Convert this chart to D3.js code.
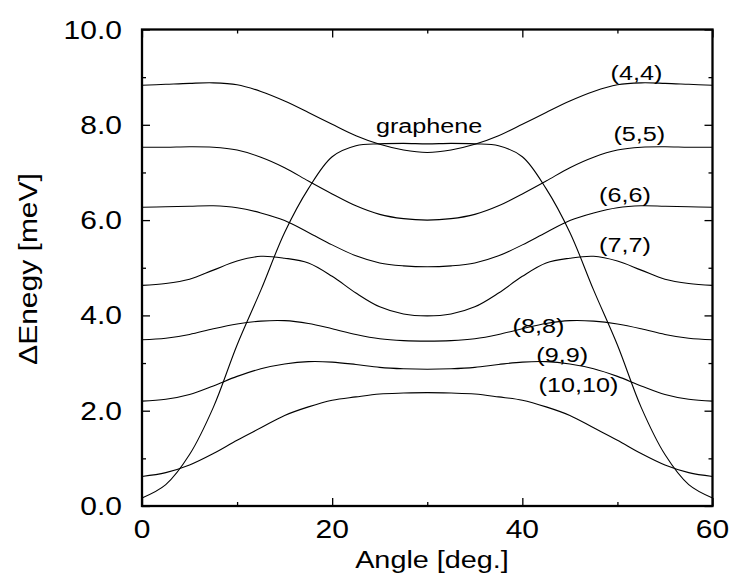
<!DOCTYPE html>
<html>
<head>
<meta charset="utf-8">
<script src="https://cdn.jsdelivr.net/npm/d3@7"></script>
<style>
  html, body { margin: 0; padding: 0; background: #fff; }
  svg { display: block; }
  text { font-family: "Liberation Sans", Arial, sans-serif; fill: #000; }
</style>
</head>
<body>
<svg id="chart" width="730" height="580"></svg>
<script>
// ---- data ----
const angles = [0, 2.5, 5, 7.5, 10, 12.5, 15, 17.5, 20, 22.5, 25, 27.5, 30,
                32.5, 35, 37.5, 40, 42.5, 45, 47.5, 50, 52.5, 55, 57.5, 60];

const seriesNames = ["(4,4)", "(5,5)", "(6,6)", "(7,7)", "(8,8)", "(9,9)", "(10,10)", "graphene"];

const tube44 = [8.83, 8.85, 8.87, 8.88, 8.84, 8.70, 8.50, 8.26, 8.01, 7.77, 7.59, 7.47, 7.42,
                7.47, 7.59, 7.77, 8.01, 8.26, 8.50, 8.70, 8.84, 8.88, 8.87, 8.85, 8.83];
const tube55 = [7.53, 7.53, 7.54, 7.53, 7.47, 7.32, 7.10, 6.82, 6.55, 6.30, 6.12, 6.03, 6.00,
                6.03, 6.12, 6.30, 6.55, 6.82, 7.10, 7.32, 7.47, 7.53, 7.54, 7.53, 7.53];
const tube66 = [6.27, 6.28, 6.29, 6.30, 6.26, 6.15, 5.99, 5.74, 5.48, 5.25, 5.10, 5.04, 5.02,
                5.04, 5.10, 5.25, 5.48, 5.74, 5.99, 6.15, 6.26, 6.30, 6.29, 6.28, 6.27];
const tube77 = [4.63, 4.67, 4.76, 4.95, 5.14, 5.24, 5.20, 5.10, 4.82, 4.47, 4.18, 4.03, 3.99,
                4.03, 4.18, 4.47, 4.82, 5.10, 5.20, 5.24, 5.14, 4.95, 4.76, 4.67, 4.63];
const tube88 = [3.49, 3.52, 3.60, 3.72, 3.82, 3.88, 3.89, 3.83, 3.72, 3.60, 3.51, 3.47, 3.46,
                3.47, 3.51, 3.60, 3.72, 3.83, 3.89, 3.88, 3.82, 3.72, 3.60, 3.52, 3.49];
const tube99 = [2.20, 2.24, 2.34, 2.52, 2.72, 2.88, 2.98, 3.03, 3.02, 2.97, 2.91, 2.88, 2.87,
                2.88, 2.91, 2.97, 3.02, 3.03, 2.98, 2.88, 2.72, 2.52, 2.34, 2.24, 2.20];
const tube1010 = [0.62, 0.70, 0.86, 1.10, 1.38, 1.64, 1.90, 2.08, 2.22, 2.29, 2.35, 2.37, 2.38,
                  2.37, 2.35, 2.29, 2.22, 2.08, 1.90, 1.64, 1.38, 1.10, 0.86, 0.70, 0.62];
const graphene = [0.17, 0.45, 1.08, 2.07, 3.38, 4.53, 5.74, 6.66, 7.33, 7.56, 7.60, 7.61, 7.60,
                  7.61, 7.60, 7.56, 7.33, 6.66, 5.74, 4.53, 3.38, 2.07, 1.08, 0.45, 0.17];

const xTickValues = [0, 20, 40, 60];
const xTickLabels = ["0", "20", "40", "60"];
const yTickValues = [0, 2, 4, 6, 8, 10];
const yTickLabels = ["0.0", "2.0", "4.0", "6.0", "8.0", "10.0"];

// label anchor points (angle, energy) for the curve names
const labelAngles = [52.0, 52.3, 50.8, 50.8, 41.7, 44.2, 45.9, 30.2];
const labelValues = [8.95, 7.66, 6.38, 5.33, 3.63, 3.02, 2.39, 7.83];

// ---- layout ----
const svg = d3.select("#chart");
const L = 142, R = 712.5, T = 29.5, B = 506;
const SX = 1.2; // horizontal glyph stretch

const x = d3.scaleLinear().domain([0, 60]).range([L, R]);
const y = d3.scaleLinear().domain([0, 10]).range([B, T]);

function stretchedText(g, px, py, str, size, anchor, rotate) {
  const rot = rotate ? ` rotate(${rotate})` : "";
  return g.append("text")
    .attr("transform", `translate(${px},${py})${rot} scale(${SX},1)`)
    .attr("text-anchor", anchor)
    .attr("font-size", size)
    .text(str);
}

// curves
const allSeries = [tube44, tube55, tube66, tube77, tube88, tube99, tube1010, graphene];
const line = d3.line()
  .x((d, i) => x(angles[i]))
  .y(d => y(d))
  .curve(d3.curveCatmullRom.alpha(0.5));

svg.append("g").selectAll("path")
  .data(allSeries)
  .join("path")
  .attr("d", d => line(d))
  .attr("fill", "none")
  .attr("stroke", "#000")
  .attr("stroke-width", 1.1);

// axes (ticks inward on all four sides)
const minorX = d3.range(0, 61, 10);
const minorY = d3.range(0, 11, 1);
function tickLen(v, majors) { return majors.includes(v) ? 8 : 4; }

const axB = d3.axisBottom(x).tickValues(minorX).tickFormat("").tickSizeOuter(0);
const gB = svg.append("g").attr("transform", `translate(0,${B})`).call(axB);
gB.selectAll(".tick line").attr("y2", d => -tickLen(d, xTickValues)).attr("stroke-width", 1.3);
const axT = d3.axisTop(x).tickValues(minorX).tickFormat("").tickSizeOuter(0);
const gT = svg.append("g").attr("transform", `translate(0,${T})`).call(axT);
gT.selectAll(".tick line").attr("y2", d => tickLen(d, xTickValues)).attr("stroke-width", 1.3);
const axLft = d3.axisLeft(y).tickValues(minorY).tickFormat("").tickSizeOuter(0);
const gL = svg.append("g").attr("transform", `translate(${L},0)`).call(axLft);
gL.selectAll(".tick line").attr("x2", d => tickLen(d, yTickValues)).attr("stroke-width", 1.3);
const axRt = d3.axisRight(y).tickValues(minorY).tickFormat("").tickSizeOuter(0);
const gR = svg.append("g").attr("transform", `translate(${R},0)`).call(axRt);
gR.selectAll(".tick line").attr("x2", d => -tickLen(d, yTickValues)).attr("stroke-width", 1.3);
svg.selectAll(".domain").remove();

// frame
svg.append("rect")
  .attr("x", L).attr("y", T).attr("width", R - L).attr("height", B - T)
  .attr("fill", "none").attr("stroke", "#000").attr("stroke-width", 2.3);

// tick labels
const gl = svg.append("g");
xTickValues.forEach((v, i) => stretchedText(gl, x(v), 538, xTickLabels[i], 25, "middle"));
yTickValues.forEach((v, i) => stretchedText(gl, 122, y(v) + 9, yTickLabels[i], 25, "end"));

// axis titles
stretchedText(gl, 432, 568, "Angle [deg.]", 24, "middle");
stretchedText(gl, 37, 269, "\u0394Enegy [meV]", 25, "middle", -90);

// curve labels
seriesNames.forEach((n, i) => {
  stretchedText(gl, x(labelAngles[i]), y(labelValues[i]), n, 21, "middle");
});
</script>
</body>
</html>
